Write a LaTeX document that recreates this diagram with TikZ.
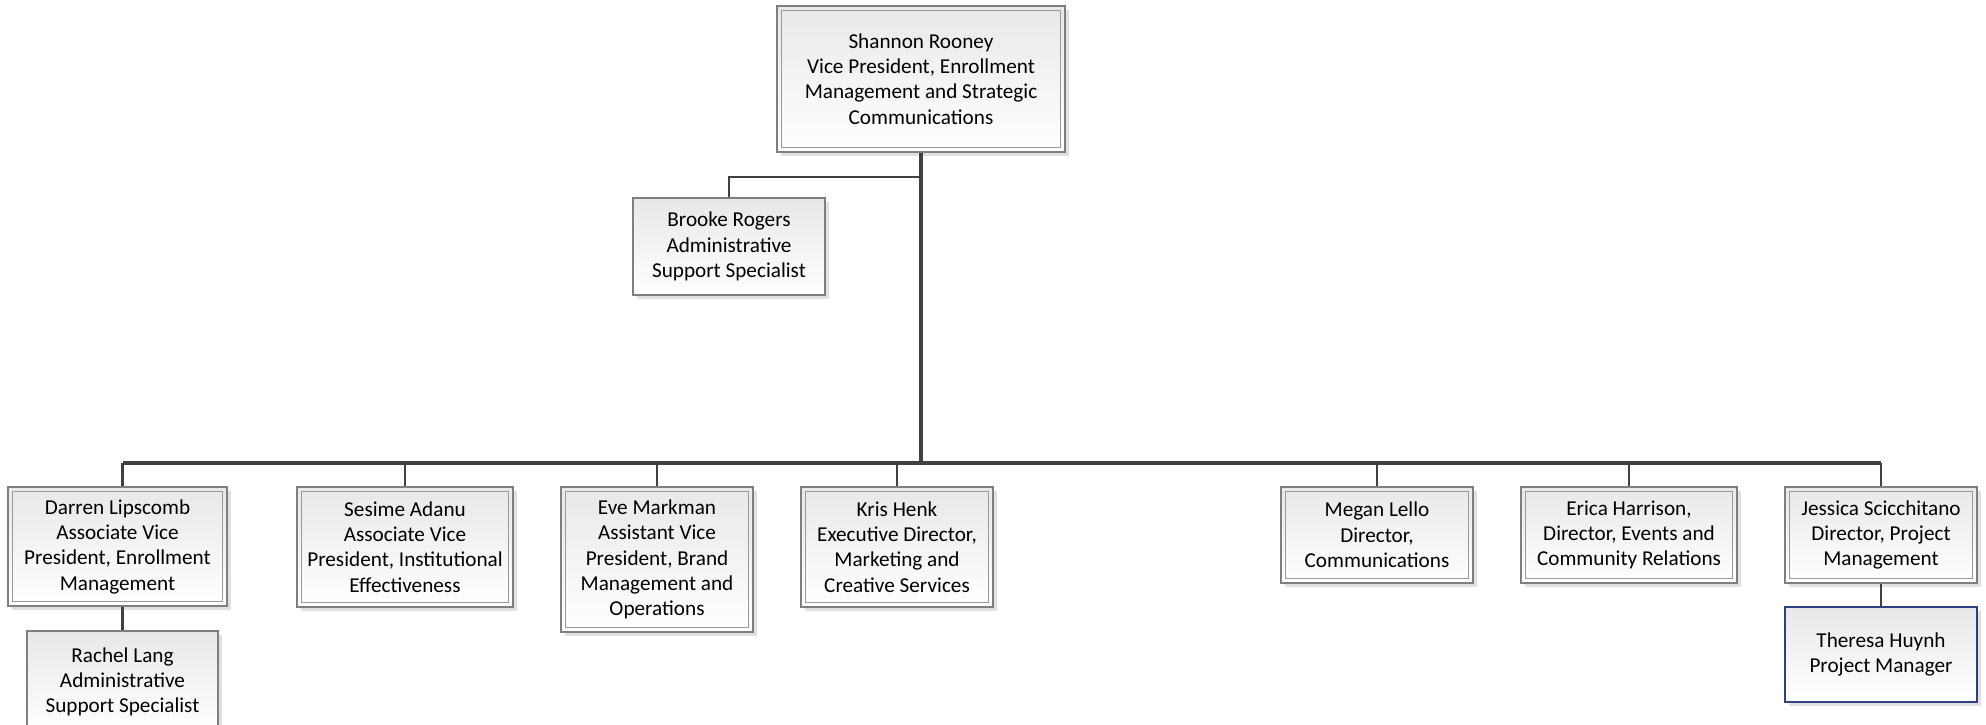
\documentclass[tikz,border=0pt]{standalone}
\usepackage{fontspec}
\setmainfont{Carlito}
\usetikzlibrary{shadows}
\definecolor{linec}{HTML}{404040}
\definecolor{boxc}{HTML}{7F7F7F}
\definecolor{navyc}{HTML}{2F3F7F}
\tikzset{
  box/.style={draw=boxc, line width=1.3pt, rectangle, inner sep=0pt,
    top color=black!9, bottom color=white,
    drop shadow={shadow xshift=4pt, shadow yshift=-4pt, fill=black!12, opacity=1},
    align=center, font=\fontsize{21.2}{25.3}\selectfont, text=black},
  bluebox/.style={box, draw=navyc},
  innerline/.style={draw=boxc!80, line width=1pt},
  conn/.style={draw=linec, line width=2.4pt},
  trunk/.style={draw=linec, line width=4pt},
  bus/.style={draw=linec, line width=3.2pt},
}
\begin{document}
\begin{tikzpicture}[x=1pt,y=-1pt]
\useasboundingbox (0,0) rectangle (1986,724);
\begin{scope}
\clip (0,0) rectangle (1986,724);
\node[box, minimum width=288pt, minimum height=146pt] (sr) at (921,79)
  {Shannon Rooney\\Vice President, Enrollment\\Management and Strategic\\Communications};
\node[box, minimum width=192pt, minimum height=97pt] (br) at (729,246.5)
  {Brooke Rogers\\Administrative\\Support Specialist};
\node[box, minimum width=219pt, minimum height=119pt] (dl) at (117.5,546.5)
  {Darren Lipscomb\\Associate Vice\\President, Enrollment\\Management};
\node[box, minimum width=191pt, minimum height=102pt] (rl) at (122.5,682)
  {Rachel Lang\\Administrative\\Support Specialist};
\node[box, minimum width=216pt, minimum height=120pt] (sa) at (405,547)
  {Sesime Adanu\\Associate Vice\\President, Institutional\\Effectiveness};
\node[box, minimum width=192pt, minimum height=145pt] (em) at (657,559.5)
  {Eve Markman\\Assistant Vice\\President, Brand\\Management and\\Operations};
\node[box, minimum width=192pt, minimum height=120pt] (kh) at (897,547)
  {Kris Henk\\Executive Director,\\Marketing and\\Creative Services};
\node[box, minimum width=192pt, minimum height=96pt] (ml) at (1377,535)
  {Megan Lello\\Director,\\Communications};
\node[box, minimum width=216pt, minimum height=96pt] (eh) at (1629,535)
  {Erica Harrison,\\Director, Events and\\Community Relations};
\node[box, minimum width=192pt, minimum height=96pt] (js) at (1881,535)
  {Jessica Scicchitano\\Director, Project\\Management};
\node[bluebox, minimum width=192pt, minimum height=95pt] (th) at (1881,654.5)
  {Theresa Huynh\\Project Manager};
\foreach \n in {sr,dl,sa,em,kh,ml,eh,js}
  \draw[innerline] ([xshift=5pt,yshift=-5pt]\n.north west) rectangle ([xshift=-5pt,yshift=5pt]\n.south east);
% connectors
\coordinate (busy) at (0,463);
\coordinate (bry) at (0,177);
\draw[trunk] (sr.south) -- (sr.south |- busy);
\draw[conn] (sr.south |- bry) -- (br.north |- bry) -- (br.north);
\draw[bus] (rl.north |- busy) -- (js.north |- busy);
\draw[conn] (rl.north |- busy) -- (rl.north |- dl.north);
\draw[conn] (rl.north |- dl.south) -- (rl.north);
\foreach \n in {sa,em,kh,ml,eh,js}
  \draw[conn] (\n.north |- busy) -- (\n.north);
\draw[conn] (js.south) -- (th.north);
\end{scope}
\end{tikzpicture}
\end{document}
